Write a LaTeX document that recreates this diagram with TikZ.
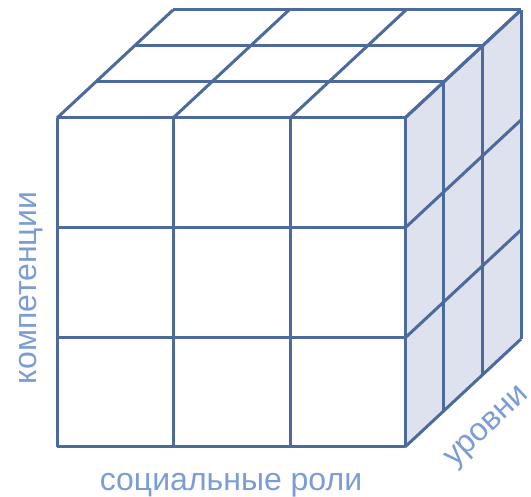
\documentclass[tikz,border=0pt]{standalone}
\usepackage{fontspec}
\setmainfont{Liberation Sans}
\definecolor{edge}{HTML}{4C6A9C}
\definecolor{side}{HTML}{DDE2EE}
\definecolor{caption}{HTML}{7B9CD5}
\tikzset{
  grid line/.style={draw=edge, line width=3pt},
  axis label/.style={text=caption, inner sep=0pt, font=\fontsize{32}{32}\selectfont}
}
\begin{document}
\begin{tikzpicture}[x=1pt, y=-1pt]
    \useasboundingbox (0,0) rectangle (531,497);
    % right side face
    \fill[side] (405,118) -- (521,10) -- (521,339) -- (405,447) -- cycle;
    % front face
    \foreach \x in {57,173,290,405} {
      \draw[grid line] (\x,118) -- (\x,447);
      \draw[grid line] (\x,118) -- ++(116,-108);
    }
    \foreach \y in {118,228,338,447} {
      \draw[grid line] (57,\y) -- (405,\y);
      \draw[grid line] (405,\y) -- ++(116,-108);
    }
    % top and side layers
    \foreach \k in {1,2,3} {
      \draw[grid line] (57+38.67*\k,118-36*\k) -- (405+38.67*\k,118-36*\k);
      \draw[grid line] (405+38.67*\k,118-36*\k) -- (405+38.67*\k,447-36*\k);
    }
    \node[axis label, anchor=base] (roles) at (231,491) {социальные роли};
    \node[axis label, anchor=base, rotate=90] (skills) at (37,288) {компетенции};
    \node[axis label, anchor=base, rotate=43] (levels) at (492,432) {уровни};
  \end{tikzpicture}
\end{document}
